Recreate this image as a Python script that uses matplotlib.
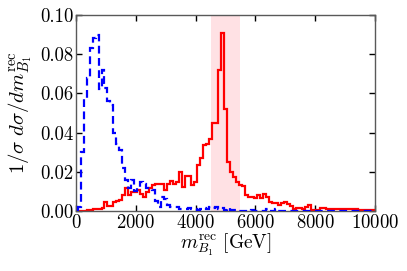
import numpy as np
import matplotlib
matplotlib.use("Agg")
import matplotlib.pyplot as plt
from matplotlib.ticker import FormatStrFormatter

plt.rcParams["font.family"] = "serif"
plt.rcParams["font.serif"] = ["cmr10"]
plt.rcParams["mathtext.fontset"] = "cm"
plt.rcParams["axes.formatter.use_mathtext"] = True

# ========== data (100 GeV bins, centred on multiples of 100) ==========
bin_edges = np.arange(50, 10100, 100)

signal_B1 = [
    0.0, 0.0, 0.0, 0.0005, 0.0005, 0.001, 0.001, 0.001, 0.0015, 0.0047,      # 100-1000
    0.0025, 0.0025, 0.0047, 0.005, 0.0056, 0.008, 0.012, 0.008, 0.0099, 0.0099,  # 1100-2000
    0.0107, 0.0087, 0.0073, 0.0099, 0.0116, 0.0133, 0.0138, 0.0138, 0.0138, 0.0108,  # 2100-3000
    0.0138, 0.0155, 0.014, 0.015, 0.020, 0.0124, 0.0178, 0.018, 0.0135, 0.015,  # 3100-4000
    0.0235, 0.027, 0.0337, 0.034, 0.037, 0.045, 0.045, 0.072, 0.091, 0.052,    # 4100-5000
    0.025, 0.020, 0.0175, 0.015, 0.0133, 0.013, 0.008, 0.0073, 0.0073, 0.0065,  # 5100-6000
    0.008, 0.0065, 0.0085, 0.0073, 0.0047, 0.004, 0.004, 0.003, 0.004, 0.0047,  # 6100-7000
    0.0035, 0.0025, 0.0013, 0.0015, 0.0015, 0.0013, 0.0022, 0.003, 0.0005, 0.0005,  # 7100-8000
    0.0005, 0.0017, 0.0017, 0.0013, 0.0013, 0.001, 0.001, 0.001, 0.001, 0.001,  # 8100-9000
    0.001, 0.001, 0.001, 0.001, 0.0005, 0.0005, 0.0005, 0.0005, 0.0005, 0.0005,  # 9100-10000
]

background = [
    0.002, 0.030, 0.057, 0.068, 0.083, 0.088, 0.090, 0.062, 0.072, 0.063,     # 100-1000
    0.056, 0.054, 0.040, 0.034, 0.031, 0.022, 0.016, 0.012, 0.016, 0.010,     # 1100-2000
    0.012, 0.015, 0.014, 0.012, 0.012, 0.011, 0.005, 0.002, 0.007, 0.006,     # 2100-3000
    0.003, 0.002, 0.002, 0.002, 0.001, 0.001, 0.001, 0.0015, 0.001, 0.001,   # 3100-4000
    0.0005, 0.001, 0.0015, 0.001, 0.002, 0.0015, 0.002, 0.001, 0.0015, 0.0005,  # 4100-5000
    0.0015, 0.0005, 0.0005, 0.0003, 0.0003, 0.0003, 0.0003, 0.0003, 0.0005, 0.0003,  # 5100-6000
    0.0003, 0.0003, 0.0003, 0.001, 0.0003, 0.0003, 0.001, 0.0003, 0.0003, 0.0003,  # 6100-7000
    0.0, 0.0003, 0.0, 0.0, 0.0, 0.0003, 0.0, 0.0, 0.0, 0.0,                   # 7100-8000
    0.0, 0.0, 0.0, 0.0, 0.0, 0.0, 0.0, 0.0, 0.0, 0.0,                         # 8100-9000
    0.0, 0.0, 0.0, 0.0, 0.0, 0.0, 0.0, 0.0, 0.0, 0.0,                         # 9100-10000
]

mass_window = (4500, 5500)

# ========== plot ==========
fig = plt.figure(figsize=(4.07, 2.71), dpi=100)
ax = fig.add_axes([0.187, 0.221, 0.734, 0.724])

ax.axvspan(*mass_window, color="#ffe1e4", lw=0, zorder=0)
ax.stairs(signal_B1, bin_edges, color="red", lw=1.6, zorder=2)
ax.stairs(background, bin_edges, color="blue", lw=1.6, ls=(0, (3.5, 2)), zorder=3)

ax.set_xlim(0, 10000)
ax.set_ylim(0, 0.1)
ax.set_xticks(np.arange(0, 10001, 2000))
ax.set_yticks(np.arange(0, 0.101, 0.02))
ax.yaxis.set_major_formatter(FormatStrFormatter("%.2f"))
ax.tick_params(direction="in", top=True, right=True, length=4, width=1,
               labelsize=13.5, pad=2)
for sp in ax.spines.values():
    sp.set_color("0.35")
    sp.set_linewidth(1.0)

ax.set_xlabel(r"$m^{\rm rec}_{B_1}\ [{\rm GeV}]$", fontsize=14, labelpad=0)
ax.set_ylabel(r"$1/\sigma\ d\sigma/dm^{\rm rec}_{B_1}$", fontsize=15, labelpad=4)

fig.savefig("out.png", dpi=100)
